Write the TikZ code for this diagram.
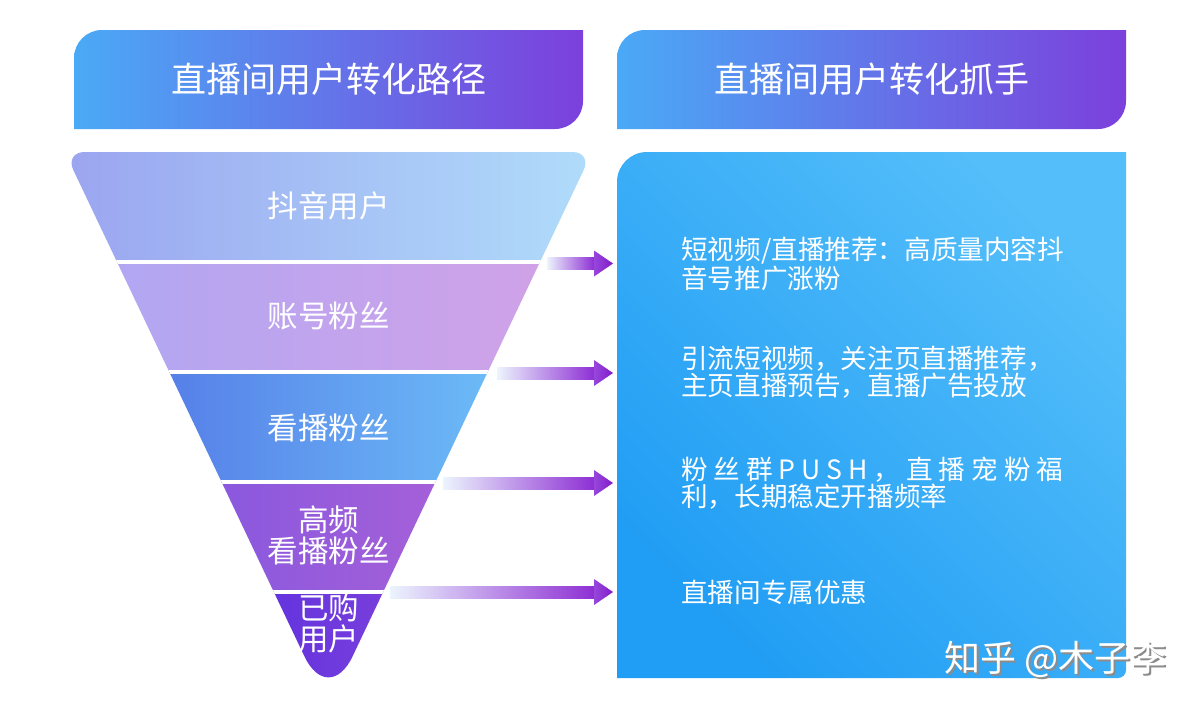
\documentclass[tikz,border=0pt]{standalone}
\usepackage{fontspec}
\setmainfont{Noto Sans CJK SC}
\usetikzlibrary{calc}
\definecolor{hdL}{RGB}{74,170,246}
\definecolor{hdR}{RGB}{124,64,220}
\definecolor{boxA}{RGB}{32,157,244}
\definecolor{boxB}{RGB}{84,190,250}
\definecolor{bOneL}{RGB}{155,165,240}
\definecolor{bOneR}{RGB}{176,220,250}
\definecolor{bTwoL}{RGB}{178,166,242}
\definecolor{bTwoR}{RGB}{208,162,232}
\definecolor{bThrL}{RGB}{86,128,232}
\definecolor{bThrR}{RGB}{108,186,247}
\definecolor{bFouL}{RGB}{138,88,222}
\definecolor{bFouR}{RGB}{165,96,216}
\definecolor{bFivL}{RGB}{100,52,222}
\definecolor{bFivR}{RGB}{120,62,220}
\definecolor{arW}{RGB}{236,244,253}
\definecolor{arM}{RGB}{165,170,236}
\definecolor{arP}{RGB}{142,48,212}
\definecolor{arHeadL}{RGB}{152,70,220}
\definecolor{arHeadR}{RGB}{128,28,200}
\definecolor{wmShadow}{RGB}{140,140,140}
\tikzset{
  hdtext/.style={text=white, font=\fontsize{35}{40}\selectfont, inner sep=0pt},
  fnltext/.style={text=white, font=\fontsize{30.5}{31}\selectfont, align=center, inner sep=0pt},
  boxtext/.style={text=white, font=\fontsize{26.6}{27}\selectfont, align=left, anchor=west, inner sep=0pt},
  arrowshade/.style={left color=arW, middle color=arM, right color=arP},
  headshade/.style={left color=arHeadL, right color=arHeadR},
  wmtext/.style={font=\fontsize{36}{40}\selectfont, inner sep=0pt}
}
\newcommand{\gradarrow}[2]{%
  \shade[arrowshade] ($(#1)+(0,-6)$) -- ($(#2)+(-19,-6)$) -- ($(#2)+(-19,6)$) -- ($(#1)+(0,6)$) -- cycle;
  \shade[headshade] ($(#2)+(-19,-13)$) -- (#2) -- ($(#2)+(-19,13)$) -- cycle;}
\begin{document}
\begin{tikzpicture}[x=1pt,y=-1pt]
\useasboundingbox (0,0) rectangle (1200,710);
\fill[white] (0,0) rectangle (1200,710);

% headers
\shade[left color=hdL, right color=hdR] (328.5,30) [sharp corners] -- (583,30) [rounded corners=28] -- (583,129) [sharp corners] -- (74,129) [rounded corners=28] -- (74,30) [sharp corners] -- cycle;
\shade[left color=hdL, right color=hdR] (871.5,30) [sharp corners] -- (1126,30) [rounded corners=28] -- (1126,129) [sharp corners] -- (617,129) [rounded corners=28] -- (617,30) [sharp corners] -- cycle;
\node[hdtext] (hleft) at (328.5,79) {直播间用户转化路径};
\node[hdtext] (hright) at (871.5,79) {直播间用户转化抓手};

% funnel
\begin{scope}
\clip (328.5,152) [rounded corners=20] -- (592.25,152) [rounded corners=56] -- (328.5,707) [rounded corners=20] -- (64.75,152) -- cycle;
\shade[left color=bOneL, right color=bOneR] (64,150) rectangle (593,262);
\shade[left color=bTwoL, right color=bTwoR] (117,262) rectangle (540,372);
\shade[left color=bThrL, right color=bThrR] (169,372) rectangle (488,482);
\shade[left color=bFouL, right color=bFouR] (221,482) rectangle (436,592);
\shade[left color=bFivL, right color=bFivR] (274,592) rectangle (383,710);
\draw[white, line width=4] (60,262) -- (600,262);
\draw[white, line width=4] (60,372) -- (600,372);
\draw[white, line width=4] (60,482) -- (600,482);
\draw[white, line width=4] (60,592) -- (600,592);
\end{scope}
\node[fnltext] (f1) at (328.5,206) {抖音用户};
\node[fnltext] (f2) at (328.5,316) {账号粉丝};
\node[fnltext] (f3) at (328.5,428) {看播粉丝};
\node[fnltext] (f4) at (328.5,535) {高频\\看播粉丝};
\node[fnltext] (f5) at (328.5,623) {已购\\用户};

% right box
\shade[bottom color=boxA, top color=boxB, shading angle=-45] (871.5,152) [sharp corners] -- (1126,152) [rounded corners=8] -- (1126,678) [sharp corners] -- (617,678) [rounded corners=30] -- (617,152) [sharp corners] -- cycle;

\node[boxtext] (t1) at (681,264) {短视频/直播推荐：高质量内容抖\\音号推广涨粉};
\node[boxtext] (t2) at (681,372) {引流短视频，关注页直播推荐，\\主页直播预告，直播广告投放};
\node[boxtext] (t3) at (681,483) {\hbox to 382pt{粉\hfill 丝\hfill 群\hfill P\hfill U\hfill S\hfill H\hfill ，\hfill 直\hfill 播\hfill 宠\hfill 粉\hfill 福}\\利，长期稳定开播频率};
\node[boxtext] (t4) at (681,592) {直播间专属优惠};

% arrows
\coordinate (a1s) at (547,263.5);
\coordinate (a1e) at (613,263.5);
\coordinate (a2s) at (497,373);
\coordinate (a2e) at (613,373);
\coordinate (a3s) at (443,483);
\coordinate (a3e) at (613,483);
\coordinate (a4s) at (390,592);
\coordinate (a4e) at (613,592);
\gradarrow{a1s}{a1e}
\gradarrow{a2s}{a2e}
\gradarrow{a3s}{a3e}
\gradarrow{a4s}{a4e}

% watermark (white text with grey drop shadow, in one node)
\node[wmtext, anchor=west] (wm) at (944,660) {\rlap{\kern2.5pt\raisebox{-2pt}{\color{wmShadow}知乎 @木子李}}\textcolor{white}{知乎 @木子李}};
\end{tikzpicture}
\end{document}
